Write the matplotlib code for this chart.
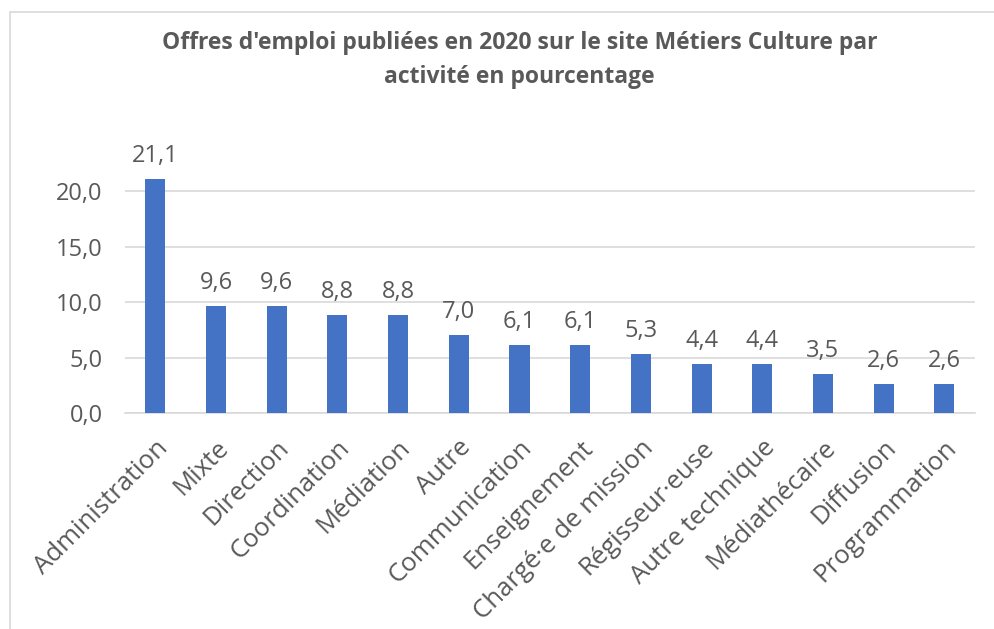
import matplotlib.pyplot as plt
from matplotlib.patches import Rectangle

categories = ['Administration', 'Mixte', 'Direction', 'Coordination', 'Médiation',
              'Autre', 'Communication', 'Enseignement', 'Chargé·e de mission',
              'Régisseur·euse', 'Autre technique', 'Médiathécaire', 'Diffusion',
              'Programmation']
values = [21.1, 9.6, 9.6, 8.8, 8.8, 7.0, 6.1, 6.1, 5.3, 4.4, 4.4, 3.5, 2.6, 2.6]
yticks = [0, 5, 10, 15, 20]

plt.rcParams['font.family'] = ['Open Sans', 'DejaVu Sans']
txt = '#595959'

fig = plt.figure(figsize=(9.95, 6.29), dpi=100)
ax = fig.add_axes([0.1256, 0.3434, 0.854, 0.441])

# chart frame
fig.patches.append(Rectangle((0.010, -0.01), 1.0, 0.991, transform=fig.transFigure,
                             fill=False, edgecolor='#D9D9D9', linewidth=1.2))

x = range(len(categories))
ax.bar(x, values, width=0.33, color='#4472C4', zorder=3)
for i, v in enumerate(values):
    ax.text(i, v + 1.0, f'{v:.1f}'.replace('.', ','), ha='center', va='bottom',
            fontsize=17, color=txt)

ax.set_xlim(-0.5, len(categories) - 0.5)
ax.set_ylim(0, 25)
ax.set_yticks(yticks)
ax.set_yticklabels([f'{t:.1f}'.replace('.', ',') for t in yticks], fontsize=17, color=txt)
ax.set_xticks(list(x))
ax.set_xticklabels(categories, rotation=45, ha='right', rotation_mode='anchor',
                   fontsize=18.5, color=txt)
ax.tick_params(axis='y', length=0, pad=16)
ax.tick_params(axis='x', length=0, pad=16)
ax.grid(axis='y', color='#D9D9D9', linewidth=1.2, zorder=0)
for s in ['top', 'right', 'left']:
    ax.spines[s].set_visible(False)
ax.spines['bottom'].set_color('#D9D9D9')
ax.spines['bottom'].set_linewidth(1.2)

fig.text(0.522, 0.904, "Offres d'emploi publiées en 2020 sur le site Métiers Culture par\nactivité en pourcentage",
         ha='center', va='center', fontsize=16.5, fontweight='bold', color=txt, linespacing=1.55)

fig.savefig('out.png', dpi=100)
